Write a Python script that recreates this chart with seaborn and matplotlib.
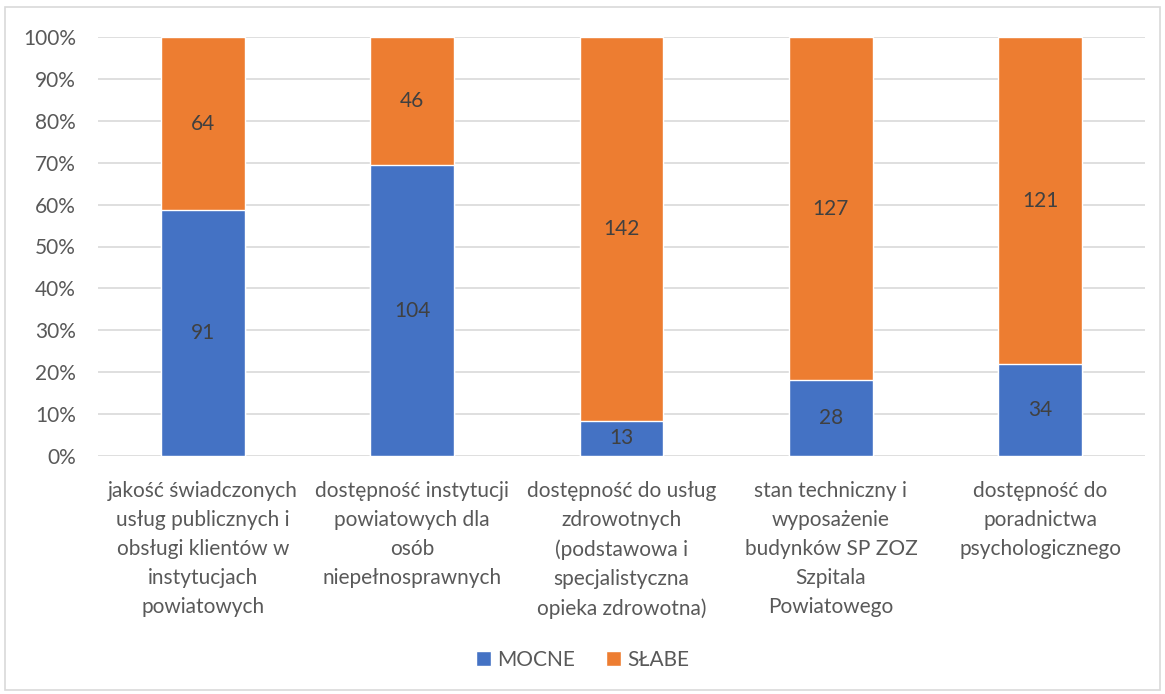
import matplotlib
matplotlib.use("Agg")
import matplotlib.pyplot as plt
import seaborn as sns
import pandas as pd
import numpy as np
from matplotlib.patches import Rectangle, Patch

categories = [
    "jakość świadczonych\nusług publicznych i\nobsługi klientów w\ninstytucjach\npowiatowych",
    "dostępność instytucji\npowiatowych dla\nosób\nniepełnosprawnych",
    "dostępność do usług\nzdrowotnych\n(podstawowa i\nspecjalistyczna\nopieka zdrowotna)",
    "stan techniczny i\nwyposażenie\nbudynków SP ZOZ\nSzpitala\nPowiatowego",
    "dostępność do\nporadnictwa\npsychologicznego",
]
mocne = [91, 104, 13, 28, 34]
slabe = [64, 46, 142, 127, 121]
series_names = ["MOCNE", "SŁABE"]
colors = ["#4472C4", "#ED7D31"]

sns.set_theme(style="white")
plt.rcParams["font.family"] = ["Lato", "DejaVu Sans"]

FS = 15

totals = np.array(mocne) + np.array(slabe)
df = pd.DataFrame({
    "cat": categories,
    "mocne_share": np.array(mocne) / totals,
    "total_share": np.ones(len(categories)),
})

fig = plt.figure(figsize=(11.65, 6.94), dpi=100)
ax = fig.add_axes([98 / 1165, (694 - 456) / 694, (1145 - 98) / 1165, (456 - 37) / 694])

sns.barplot(data=df, x="cat", y="total_share", color=colors[1], width=0.4,
            saturation=1, ax=ax, zorder=2)
sns.barplot(data=df, x="cat", y="mocne_share", color=colors[0], width=0.4,
            saturation=1, ax=ax, zorder=3)

# labels
text_color = "#404040"
for i, c in enumerate(categories):
    s = df["mocne_share"].iloc[i]
    ax.text(i, s / 2, str(mocne[i]), ha="center", va="center", fontsize=FS,
            color=text_color, zorder=5)
    ax.text(i, s + (1 - s) / 2, str(slabe[i]), ha="center", va="center",
            fontsize=FS, color=text_color, zorder=5)

ax.set_ylim(0, 1)
ax.set_xlim(-0.5, len(categories) - 0.5)
ax.set_yticks(np.arange(0, 1.01, 0.1))
ax.set_yticklabels([f"{int(round(v * 100))}%" for v in np.arange(0, 1.01, 0.1)])
ax.yaxis.grid(True, color="#D9D9D9", linewidth=1.2, zorder=0)
ax.set_axisbelow(True)
for sp in ax.spines.values():
    sp.set_visible(False)
ax.tick_params(axis="both", length=0, colors="#595959", labelsize=FS)
ax.tick_params(axis="y", pad=16)
ax.tick_params(axis="x", pad=18)
for lbl in ax.get_xticklabels():
    lbl.set_linespacing(1.57)
ax.set_xlabel("")
ax.set_ylabel("")

handles = [Patch(facecolor=colors[0], label=series_names[0]),
           Patch(facecolor=colors[1], label=series_names[1])]
leg = fig.legend(handles=handles, loc="center", bbox_to_anchor=(0.5, (694 - 660) / 694),
                 ncol=2, frameon=False, fontsize=FS, handlelength=0.7,
                 handleheight=0.7, handletextpad=0.3, columnspacing=1.5)
for t in leg.get_texts():
    t.set_color("#595959")

fig.patches.append(Rectangle((5 / 1165, 4 / 694), 1155 / 1165, 683 / 694,
                             transform=fig.transFigure, fill=False,
                             edgecolor="#D9D9D9", linewidth=1.2))

fig.savefig("out.png", dpi=100)
